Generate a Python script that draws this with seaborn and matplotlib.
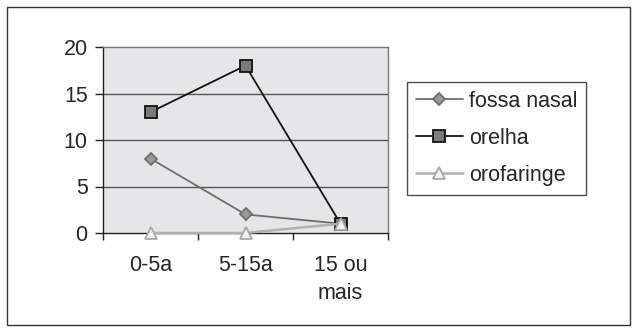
import matplotlib
matplotlib.use("Agg")
import matplotlib.pyplot as plt
from matplotlib.patches import Rectangle
from matplotlib.ticker import FixedLocator
import seaborn as sns

categories = ["0-5a", "5-15a", "15 ou\nmais"]
fossa_nasal = [8, 2, 1]
orelha = [13, 18, 1]
orofaringe = [0, 0, 1]
series_names = ["fossa nasal", "orelha", "orofaringe"]
y_ticks = [0, 5, 10, 15, 20]

FS = 15.5

sns.set_theme(style="white")
plt.rcParams["font.family"] = ["Liberation Sans", "DejaVu Sans"]

fig = plt.figure(figsize=(6.38, 3.31), dpi=100)
fig.patch.set_facecolor("white")
fig.patches.append(Rectangle((7 / 638, 6 / 331), 623 / 638, 318 / 331,
                             transform=fig.transFigure, fill=False,
                             edgecolor="#333333", linewidth=1.0))

ax = fig.add_axes([103 / 638, 1 - 233 / 331, 285 / 638, 186 / 331])
ax.set_facecolor("#e6e6e8")

styles = [
    dict(color="#6e6e6e", marker="D", markersize=6, markerfacecolor="#9a9a9a",
         markeredgecolor="#6e6e6e", linewidth=1.3),
    dict(color="#111111", marker="s", markersize=8, markerfacecolor="#7a7a7a",
         markeredgecolor="#111111", linewidth=1.3),
    dict(color="#b0b0b0", marker="^", markersize=8, markerfacecolor="#f2f2f2",
         markeredgecolor="#a8a8a8", linewidth=1.8),
]

for name, vals, st in zip(series_names, [fossa_nasal, orelha, orofaringe], styles):
    sns.lineplot(x=categories, y=vals, ax=ax, label=name, sort=False,
                 markeredgewidth=1.3, clip_on=False, zorder=3, **st)

ax.set_xlim(-0.5, 2.5)
ax.set_ylim(0, 20)
ax.set_yticks(y_ticks)
for y in y_ticks[1:-1]:
    ax.axhline(y, color="#555555", linewidth=1.0, zorder=0.5)

for side in ["top", "right"]:
    ax.spines[side].set_color("#777777")
    ax.spines[side].set_linewidth(1.0)
for side in ["left", "bottom"]:
    ax.spines[side].set_color("#222222")
    ax.spines[side].set_linewidth(1.0)

ax.tick_params(axis="y", which="major", length=6, width=1, color="#222222",
               labelsize=FS, pad=5, left=True)
ax.tick_params(axis="x", which="major", length=0, labelsize=FS, pad=16)
ax.xaxis.set_minor_locator(FixedLocator([-0.5, 0.5, 1.5, 2.5]))
ax.tick_params(axis="x", which="minor", length=5, width=1, color="#222222",
               bottom=True, direction="out")
for lbl in ax.get_xticklabels():
    lbl.set_linespacing(1.4)
    lbl.set_verticalalignment("top")
ax.set_xlabel("")
ax.set_ylabel("")

handles, labels = ax.get_legend_handles_labels()
ax.get_legend().remove()
leg = fig.legend(handles, labels, loc="upper left",
                 bbox_to_anchor=(407 / 638, 1 - 82 / 331),
                 frameon=True, fancybox=False, fontsize=FS,
                 handlelength=2.2, handletextpad=0.28, labelspacing=0.75,
                 borderpad=0.4, borderaxespad=0)
leg.get_frame().set_edgecolor("#222222")
leg.get_frame().set_linewidth(1.0)

fig.savefig("out.png", dpi=100, facecolor="white")
